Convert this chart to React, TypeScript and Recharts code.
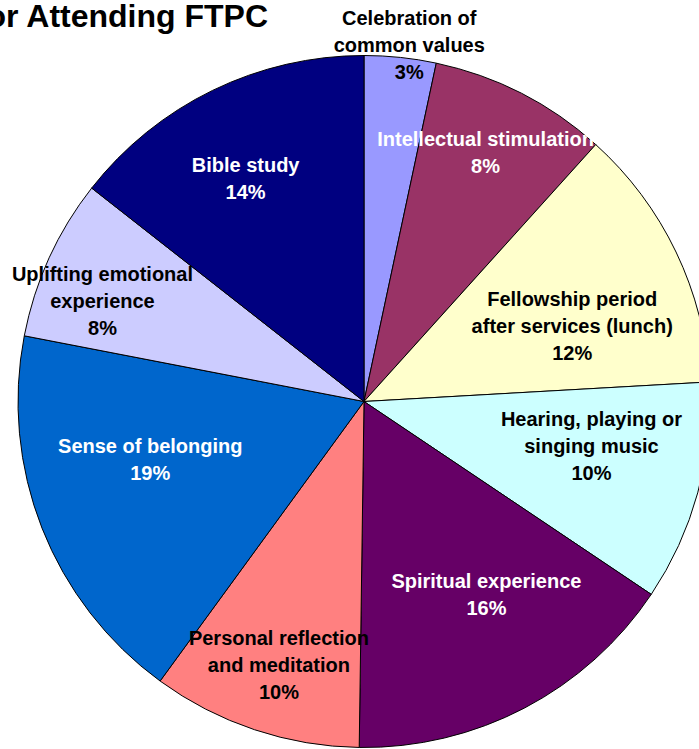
import React from "react";
import { Cell, Pie, PieChart } from "recharts";

// Reasons for attending, clockwise from 12 o'clock.
const REASONS = [
  "Celebration of\ncommon values",
  "Intellectual stimulation",
  "Fellowship period\nafter services (lunch)",
  "Hearing, playing or\nsinging music",
  "Spiritual experience",
  "Personal reflection\nand meditation",
  "Sense of belonging",
  "Uplifting emotional\nexperience",
  "Bible study",
];

// Slice shares (percent of responses).
const SHARES = [3.35, 8.33, 12.42, 10.31, 15.81, 9.81, 18.01, 7.54, 14.42];

// Percent labels as printed on the chart.
const SHOWN_PERCENT = ["3%", "8%", "12%", "10%", "16%", "10%", "19%", "8%", "14%"];

const FILLS = [
  "#9999FF",
  "#993366",
  "#FFFFCC",
  "#CCFFFF",
  "#660066",
  "#FF8080",
  "#0066CC",
  "#CCCCFF",
  "#000080",
];
const TEXT_FILLS = ["#000", "#fff", "#000", "#000", "#fff", "#000", "#fff", "#000", "#fff"];

// label placement: fraction of radius, and a small turn (deg, clockwise) off the mid angle
const LABEL_RADIUS = [1.04, 0.8, 0.64, 0.67, 0.66, 0.8, 0.64, 0.81, 0.73];
const LABEL_TURN = [1.2, -1, 5.7, -4.2, -4.75, -0.55, 6.3, -3.45, -2];

const FONT = '"Liberation Sans", Arial, sans-serif';
const LINE_H = 27;

const data = REASONS.map((name, i) => ({ name, value: SHARES[i] }));

function SliceLabel(props: any) {
  const { cx, cy, midAngle, outerRadius, index } = props;
  const theta = ((90 - midAngle + LABEL_TURN[index]) * Math.PI) / 180;
  const r = outerRadius * LABEL_RADIUS[index];
  const x = cx + r * Math.sin(theta);
  const y = cy - r * Math.cos(theta);
  const lines = [...REASONS[index].split("\n"), SHOWN_PERCENT[index]];
  const first = y - ((lines.length - 1) * LINE_H) / 2 + 7;
  return (
    <text
      x={x}
      y={first}
      textAnchor="middle"
      fill={TEXT_FILLS[index]}
      fontFamily={FONT}
      fontWeight="bold"
      fontSize={20}
    >
      {lines.map((ln, k) => (
        <tspan key={k} x={x} y={first + k * LINE_H}>
          {ln}
        </tspan>
      ))}
    </text>
  );
}

export default function App() {
  return (
    <div style={{ position: "absolute", left: 0, top: 0, width: 699, height: 749, overflow: "hidden", background: "#fff" }}>
      <PieChart width={699} height={749} margin={{ top: 0, right: 0, bottom: 0, left: 0 }}>
        <Pie
          data={data}
          dataKey="value"
          nameKey="name"
          cx={364}
          cy={401.5}
          outerRadius={346}
          startAngle={90}
          endAngle={-270}
          stroke="#000"
          strokeWidth={1}
          label={SliceLabel}
          labelLine={false}
          isAnimationActive={false}
        >
          {data.map((d, i) => (
            <Cell key={d.name} fill={FILLS[i]} />
          ))}
        </Pie>
      </PieChart>
      <svg width={699} height={749} style={{ position: "absolute", left: 0, top: 0, pointerEvents: "none" }}>
        <text x={268} y={27} textAnchor="end" fontFamily={FONT} fontWeight="bold" fontSize={32} fill="#000">
          Reasons for Attending FTPC
        </text>
      </svg>
    </div>
  );
}
